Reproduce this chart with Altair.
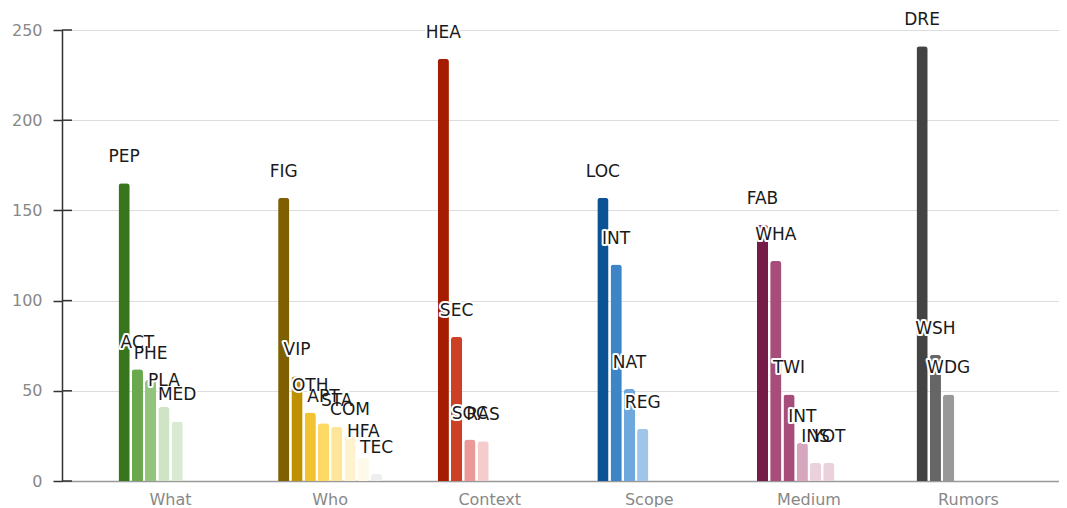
import altair as alt
import pandas as pd

groups = ["What", "Who", "Context", "Scope", "Medium", "Rumors"]

what_labels = ["PEP", "ACT", "PHE", "PLA", "MED"]
what_values = [165, 62, 56, 41, 33]
what_colors = ["#38761d", "#6aa84f", "#93c47d", "#cfe4c5", "#d9ead3"]

who_labels = ["FIG", "VIP", "OTH", "APT", "STA", "COM", "HFA", "TEC"]
who_values = [157, 58, 38, 32, 30, 25, 13, 4]
who_colors = ["#7f6000", "#bf9000", "#f1c232", "#ffd966", "#ffe599", "#fff2cc", "#fff9ea", "#eeeeee"]

context_labels = ["HEA", "SEC", "SOC", "RAS"]
context_values = [234, 80, 23, 22]
context_colors = ["#a61c00", "#cc4125", "#ea9999", "#f4cccc"]

scope_labels = ["LOC", "INT", "NAT", "REG"]
scope_values = [157, 120, 51, 29]
scope_colors = ["#0b5394", "#3d85c6", "#6fa8dc", "#9fc5e8"]

medium_labels = ["FAB", "WHA", "TWI", "INT", "INS", "YOT"]
medium_values = [142, 122, 48, 21, 10, 10]
medium_colors = ["#741b47", "#a64d79", "#a64d79", "#d5a6bd", "#ead1dc", "#ead1dc"]

rumors_labels = ["DRE", "WSH", "WDG"]
rumors_values = [241, 70, 48]
rumors_colors = ["#434343", "#666666", "#999999"]

y_ticks = [0, 50, 100, 150, 200, 250]

series = [
    (what_labels, what_values, what_colors),
    (who_labels, who_values, who_colors),
    (context_labels, context_values, context_colors),
    (scope_labels, scope_values, scope_colors),
    (medium_labels, medium_values, medium_colors),
    (rumors_labels, rumors_values, rumors_colors),
]

rows = []
for g, (labs, vals, cols) in zip(groups, series):
    for i, (l, v, c) in enumerate(zip(labs, vals, cols)):
        rows.append({"group": g, "label": l, "value": v, "color": c, "rank": i})
df = pd.DataFrame(rows)
ticks_df = pd.DataFrame({"t": y_ticks})

FONT = "DejaVu Sans"

x_enc = alt.X(
    "group:N",
    sort=groups,
    scale=alt.Scale(paddingInner=0.348, paddingOuter=0.2975, align=0.595),
    axis=alt.Axis(
        title=None, labelAngle=0, ticks=False, tickSize=0, labelPadding=10,
        labelColor="#888888", labelFontSize=16, labelFont=FONT,
        domainColor="#999999", domainWidth=1.5, grid=False,
    ),
)
xo_enc = alt.XOffset(
    "rank:O",
    scale=alt.Scale(domain=list(range(8)), paddingInner=0.154, paddingOuter=0),
)
y_scale = alt.Scale(domain=[0, 250], nice=False)

bars = alt.Chart(df).mark_bar(cornerRadiusTopLeft=3, cornerRadiusTopRight=3).encode(
    x=x_enc,
    xOffset=xo_enc,
    y=alt.Y(
        "value:Q",
        scale=y_scale,
        axis=alt.Axis(
            title=None, values=y_ticks, tickSize=9, tickColor="#333333", tickWidth=1.5,
            domainColor="#333333", domainWidth=1.5, labelPadding=11,
            labelColor="#888888", labelFontSize=16, labelFont=FONT,
            gridColor="#dddddd", gridWidth=1,
        ),
    ),
    color=alt.Color("color:N", scale=None),
)

halo = alt.Chart(df).mark_text(
    dy=-26, baseline="middle", align="center", font=FONT, fontSize=17,
    stroke="white", strokeWidth=4, strokeJoin="round", color="white",
).encode(x=x_enc, xOffset=xo_enc, y=alt.Y("value:Q", scale=y_scale), text="label:N")

labels = alt.Chart(df).mark_text(
    dy=-26, baseline="middle", align="center", font=FONT, fontSize=17, color="#1a1a1a",
).encode(x=x_enc, xOffset=xo_enc, y=alt.Y("value:Q", scale=y_scale), text="label:N")

inner_ticks = alt.Chart(ticks_df).mark_rule(color="#333333", strokeWidth=1.5).encode(
    y=alt.Y("t:Q", scale=y_scale), x=alt.value(0), x2=alt.value(10)
)

chart = alt.layer(bars, inner_ticks, halo, labels).properties(
    width=997, height=451,
    autosize=alt.AutoSizeParams(type="none"),
    padding={"left": 54, "top": 22, "right": 0, "bottom": 26},
).configure_view(stroke=None)

chart.save("out.html", embed_options={"renderer": "svg", "actions": False})
